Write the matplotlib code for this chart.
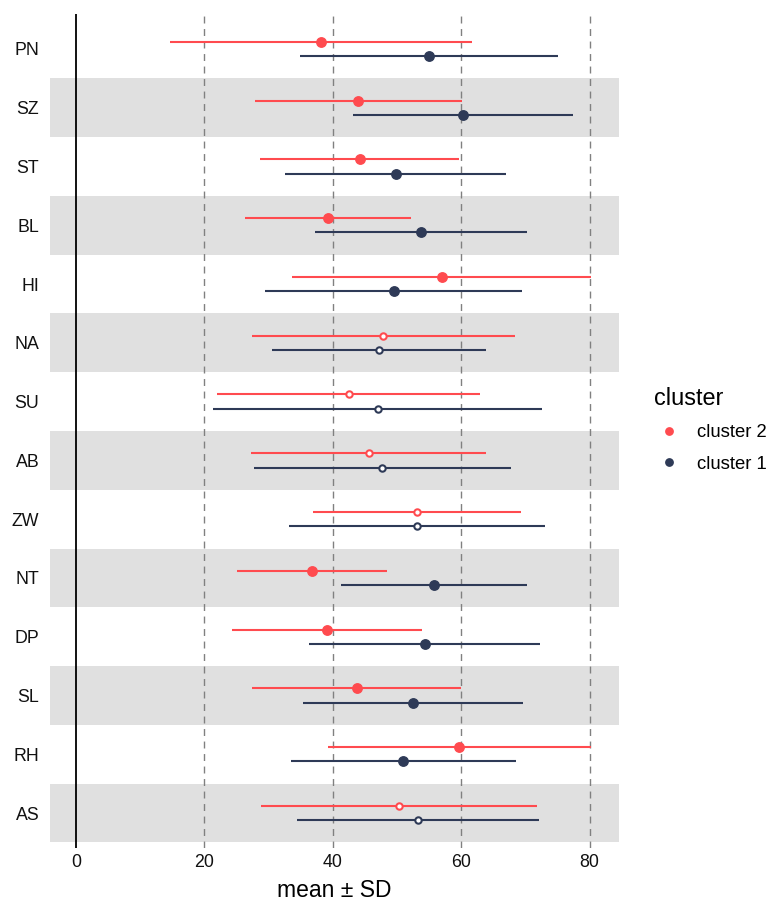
import matplotlib
matplotlib.use("Agg")
import matplotlib.pyplot as plt
from matplotlib.lines import Line2D
import numpy as np

plt.rcParams['font.family'] = ['Liberation Sans', 'DejaVu Sans']

categories = ["PN", "SZ", "ST", "BL", "HI", "NA", "SU", "AB", "ZW", "NT", "DP", "SL", "RH", "AS"]
c2_mean = [38.2, 44.0, 44.2, 39.3, 57.0, 47.9, 42.5, 45.6, 53.2, 36.8, 39.1, 43.7, 59.7, 50.3]
c2_sd   = [23.5, 16.1, 15.5, 12.9, 23.3, 20.5, 20.5, 18.3, 16.2, 11.7, 14.8, 16.3, 20.5, 21.5]
c1_mean = [55.0, 60.3, 49.8, 53.8, 49.5, 47.2, 47.0, 47.7, 53.1, 55.8, 54.3, 52.5, 51.0, 53.3]
c1_sd   = [20.1, 17.2, 17.2, 16.5, 20.0, 16.7, 25.6, 20.0, 19.9, 14.5, 18.0, 17.2, 17.5, 18.8]
significant = [True, True, True, True, True, False, False, False, False, True, True, True, True, False]
x_ticks = [0, 20, 40, 60, 80]

red = "#FF4B4F"
navy = "#2E3A57"

fig = plt.figure(figsize=(7.69, 9.0), dpi=100)
ax = fig.add_axes([0.065, 0.0574, 0.740, 0.9274])

n = len(categories)
ypos = np.arange(n)

# alternating bands
for i in range(n):
    if i % 2 == 1:
        ax.axhspan(i - 0.5, i + 0.5, color="#E0E0E0", zorder=0, lw=0)

for xv in [20, 40, 60, 80]:
    ax.axvline(xv, color="#808080", lw=1.0, ls=(0, (5, 4)), zorder=1)
ax.axvline(0, color="black", lw=1.3, zorder=2)

off = 0.122
for i in range(n):
    for mean, sd, col, dy in [(c2_mean[i], c2_sd[i], red, -off), (c1_mean[i], c1_sd[i], navy, off)]:
        y = i + dy
        ax.plot([mean - sd, mean + sd], [y, y], color=col, lw=1.5, solid_capstyle='butt', zorder=3)
        if significant[i]:
            ax.plot(mean, y, 'o', ms=6.8, color=col, mec=col, zorder=4)
        else:
            ax.plot(mean, y, 'o', ms=4.6, mfc='white', mec=col, mew=1.5, zorder=4)

ax.set_ylim(n - 1 + 0.6, -0.6)
ax.set_xlim(-4.05, 84.6)
ax.set_yticks(ypos)
ax.set_yticklabels(categories, fontsize=12.8, color="#111111")
ax.set_xticks(x_ticks)
ax.set_xticklabels([str(v) for v in x_ticks], fontsize=12.8, color="#111111")
ax.tick_params(axis='both', length=0)
ax.tick_params(axis='y', pad=7.7)
ax.tick_params(axis='x', pad=4)
for s in ax.spines.values():
    s.set_visible(False)
ax.set_xlabel("mean ± SD", fontsize=16.5, labelpad=5.5)

handles = [Line2D([0], [0], marker='o', color='w', markerfacecolor=red, markeredgecolor=red, ms=5.3, lw=0),
           Line2D([0], [0], marker='o', color='w', markerfacecolor=navy, markeredgecolor=navy, ms=5.3, lw=0)]
leg = fig.legend(handles, ["cluster 2", "cluster 1"], title="cluster", loc='upper left',
                 bbox_to_anchor=(0.8505, 0.570), frameon=False, fontsize=13.3,
                 title_fontsize=16.9, handletextpad=0.7, labelspacing=0.78, handlelength=1.62,
                 borderpad=0, borderaxespad=0)
leg._legend_box.align = "left"

fig.savefig("out.png", dpi=100)
